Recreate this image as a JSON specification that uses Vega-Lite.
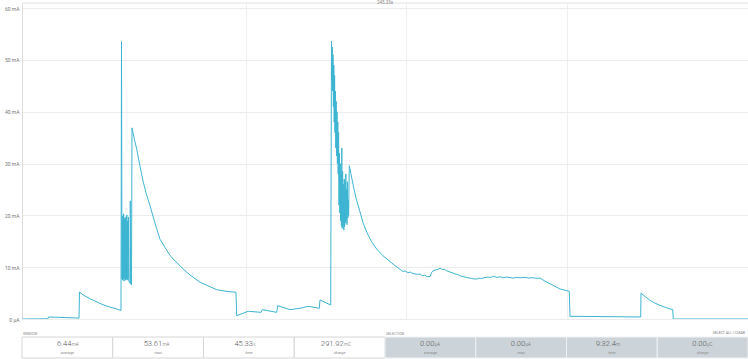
{
  "$schema": "https://vega.github.io/schema/vega-lite/v6.json",
  "padding": 0,
  "background": "white",
  "config": {"view": {"stroke": null}, "font": "Roboto"},
  "spacing": 6,
  "vconcat": [
    {
      "width": 726,
      "height": 316,
      "layer": [
        {
          "data": {"values": [
            {"t": 0, "mA": 0.0}, {"t": 1.623, "mA": 0.05}, {"t": 1.655, "mA": 0.39}, {"t": 3.497, "mA": 0.19},
            {"t": 3.559, "mA": 0.14}, {"t": 3.590, "mA": 5.21}, {"t": 3.746, "mA": 4.8}, {"t": 3.934, "mA": 4.44},
            {"t": 4.246, "mA": 3.9}, {"t": 4.558, "mA": 3.47}, {"t": 4.870, "mA": 3.0}, {"t": 5.182, "mA": 2.61},
            {"t": 5.495, "mA": 2.3}, {"t": 5.807, "mA": 2.03}, {"t": 6.181, "mA": 1.64}, {"t": 6.213, "mA": 53.57},
            {"t": 6.244, "mA": 7.72}, {"t": 6.263, "mA": 19.9}, {"t": 6.281, "mA": 7.5}, {"t": 6.306, "mA": 18.9},
            {"t": 6.325, "mA": 7.7}, {"t": 6.344, "mA": 20.3}, {"t": 6.369, "mA": 7.3}, {"t": 6.393, "mA": 19.3},
            {"t": 6.418, "mA": 7.9}, {"t": 6.443, "mA": 19.7}, {"t": 6.468, "mA": 7.5}, {"t": 6.493, "mA": 19.5},
            {"t": 6.518, "mA": 7.7}, {"t": 6.543, "mA": 20.1}, {"t": 6.568, "mA": 7.5}, {"t": 6.593, "mA": 18.9},
            {"t": 6.618, "mA": 7.7}, {"t": 6.643, "mA": 19.7}, {"t": 6.668, "mA": 7.3}, {"t": 6.712, "mA": 7.1},
            {"t": 6.743, "mA": 6.9}, {"t": 6.762, "mA": 22.8}, {"t": 6.781, "mA": 6.8}, {"t": 6.837, "mA": 6.6},
            {"t": 6.868, "mA": 36.9}, {"t": 7.024, "mA": 34.6}, {"t": 7.162, "mA": 32.8}, {"t": 7.368, "mA": 29.5},
            {"t": 7.574, "mA": 26.4}, {"t": 7.774, "mA": 24.0}, {"t": 7.992, "mA": 21.9}, {"t": 8.304, "mA": 18.5},
            {"t": 8.616, "mA": 15.4}, {"t": 8.929, "mA": 13.8}, {"t": 9.241, "mA": 12.3}, {"t": 9.553, "mA": 11.2},
            {"t": 9.865, "mA": 10.3}, {"t": 10.177, "mA": 9.3}, {"t": 10.490, "mA": 8.5}, {"t": 10.802, "mA": 7.8},
            {"t": 11.114, "mA": 7.1}, {"t": 11.613, "mA": 6.4}, {"t": 12.157, "mA": 5.66}, {"t": 12.737, "mA": 5.35},
            {"t": 13.362, "mA": 5.15},
            {"t": 13.405, "mA": 0.64}, {"t": 14.130, "mA": 1.49}, {"t": 14.923, "mA": 1.29}, {"t": 15.004, "mA": 1.8},
            {"t": 15.903, "mA": 1.29}, {"t": 15.965, "mA": 2.57}, {"t": 16.733, "mA": 1.8}, {"t": 17.358, "mA": 2.07},
            {"t": 17.876, "mA": 2.45}, {"t": 18.563, "mA": 2.07}, {"t": 18.607, "mA": 3.67}, {"t": 19.275, "mA": 2.7},
            {"t": 19.325, "mA": 53.61}, {"t": 19.343, "mA": 46}, {"t": 19.368, "mA": 52.5}, {"t": 19.393, "mA": 44},
            {"t": 19.418, "mA": 51}, {"t": 19.443, "mA": 41}, {"t": 19.468, "mA": 49}, {"t": 19.493, "mA": 38},
            {"t": 19.518, "mA": 47}, {"t": 19.543, "mA": 36}, {"t": 19.568, "mA": 44}, {"t": 19.593, "mA": 33},
            {"t": 19.618, "mA": 42}, {"t": 19.643, "mA": 31.5}, {"t": 19.668, "mA": 40}, {"t": 19.693, "mA": 30},
            {"t": 19.718, "mA": 38}, {"t": 19.743, "mA": 28}, {"t": 19.768, "mA": 36}, {"t": 19.793, "mA": 22},
            {"t": 19.818, "mA": 32}, {"t": 19.843, "mA": 20.5}, {"t": 19.868, "mA": 30}, {"t": 19.893, "mA": 19},
            {"t": 19.918, "mA": 28}, {"t": 19.943, "mA": 18}, {"t": 19.968, "mA": 33}, {"t": 19.993, "mA": 17.5},
            {"t": 20.018, "mA": 28.5}, {"t": 20.043, "mA": 18}, {"t": 20.068, "mA": 26}, {"t": 20.093, "mA": 17.2},
            {"t": 20.118, "mA": 27}, {"t": 20.143, "mA": 17.8}, {"t": 20.168, "mA": 26.5}, {"t": 20.193, "mA": 18.5},
            {"t": 20.218, "mA": 28}, {"t": 20.243, "mA": 19}, {"t": 20.268, "mA": 25}, {"t": 20.293, "mA": 18.2},
            {"t": 20.318, "mA": 26.5}, {"t": 20.343, "mA": 19.5}, {"t": 20.368, "mA": 23}, {"t": 20.393, "mA": 20},
            {"t": 20.436, "mA": 29.6}, {"t": 20.686, "mA": 25.7}, {"t": 20.885, "mA": 23.0}, {"t": 21.104, "mA": 20.7},
            {"t": 21.291, "mA": 18.6}, {"t": 21.522, "mA": 16.8}, {"t": 21.791, "mA": 15.1}, {"t": 22.147, "mA": 13.5},
            {"t": 22.540, "mA": 12.2}, {"t": 22.977, "mA": 11.1}, {"t": 23.289, "mA": 10.3}, {"t": 23.602, "mA": 9.6},
            {"t": 23.70, "mA": 9.35}, {"t": 23.80, "mA": 9.2},
            {"t": 23.95, "mA": 9.25}, {"t": 24.10, "mA": 8.95}, {"t": 24.25, "mA": 9.05}, {"t": 24.40, "mA": 8.8},
            {"t": 24.538, "mA": 8.7}, {"t": 24.70, "mA": 8.6}, {"t": 24.85, "mA": 8.7}, {"t": 25.00, "mA": 8.35},
            {"t": 25.15, "mA": 8.45}, {"t": 25.30, "mA": 8.2}, {"t": 25.475, "mA": 8.17}, {"t": 25.56, "mA": 8.9},
            {"t": 25.662, "mA": 9.3}, {"t": 25.85, "mA": 9.5}, {"t": 26.00, "mA": 9.65}, {"t": 26.099, "mA": 9.8},
            {"t": 26.25, "mA": 9.55}, {"t": 26.40, "mA": 9.6}, {"t": 26.517, "mA": 9.3}, {"t": 26.70, "mA": 9.1},
            {"t": 26.85, "mA": 8.95}, {"t": 27.036, "mA": 8.7}, {"t": 27.20, "mA": 8.6}, {"t": 27.40, "mA": 8.3},
            {"t": 27.660, "mA": 8.1}, {"t": 27.85, "mA": 7.95}, {"t": 28.05, "mA": 7.85}, {"t": 28.20, "mA": 7.75},
            {"t": 28.391, "mA": 7.7}, {"t": 28.55, "mA": 7.9}, {"t": 28.70, "mA": 7.8}, {"t": 28.909, "mA": 8.0},
            {"t": 29.10, "mA": 8.1}, {"t": 29.25, "mA": 8.0}, {"t": 29.427, "mA": 8.24}, {"t": 29.65, "mA": 8.05},
            {"t": 29.85, "mA": 8.15}, {"t": 30.05, "mA": 7.95}, {"t": 30.25, "mA": 8.1}, {"t": 30.470, "mA": 8.0},
            {"t": 30.70, "mA": 7.9}, {"t": 30.90, "mA": 8.05}, {"t": 31.10, "mA": 7.95}, {"t": 31.406, "mA": 8.05},
            {"t": 31.65, "mA": 7.9}, {"t": 31.85, "mA": 8.0}, {"t": 32.10, "mA": 7.85}, {"t": 32.343, "mA": 7.9},
            {"t": 32.655, "mA": 7.3}, {"t": 33.092, "mA": 6.6}, {"t": 33.592, "mA": 5.8}, {"t": 34.172, "mA": 5.35},
            {"t": 34.216, "mA": 0.52}, {"t": 38.630, "mA": 0.39}, {"t": 38.649, "mA": 5.02}, {"t": 38.836, "mA": 4.5},
            {"t": 39.024, "mA": 4.05}, {"t": 39.211, "mA": 3.6}, {"t": 39.417, "mA": 3.22}, {"t": 39.711, "mA": 2.8},
            {"t": 40.023, "mA": 2.41}, {"t": 40.335, "mA": 2.08}, {"t": 40.628, "mA": 1.8}, {"t": 40.666, "mA": 0.0},
            {"t": 45.33, "mA": 0.0}
          ]},
          "mark": {"type": "line", "color": "#3db5d2", "strokeWidth": 1, "clip": true},
          "encoding": {
            "x": {
              "field": "t", "type": "quantitative",
              "scale": {"domain": [0, 45.33], "nice": false, "zero": false},
              "axis": {"title": null, "labels": false, "ticks": false, "domain": false, "grid": true,
                       "values": [14, 24, 34], "gridColor": "#efefef", "minExtent": 0, "maxExtent": 0}
            },
            "y": {
              "field": "mA", "type": "quantitative",
              "scale": {"domain": [0, 61.0], "nice": false},
              "axis": {"title": null, "values": [0, 10, 20, 30, 40, 50, 60], "ticks": false,
                       "labelExpr": "datum.value == 0 ? '0 µA' : datum.value + ' mA'",
                       "labelFontSize": 5, "labelColor": "#777", "labelPadding": 3,
                       "domainColor": "#dddddd", "gridColor": "#ececec",
                       "minExtent": 22, "maxExtent": 22}
            }
          }
        },
        {
          "data": {"values": [{}]},
          "mark": {"type": "rule", "color": "#e2e2e2", "strokeWidth": 1},
          "encoding": {"y": {"datum": 61.0, "type": "quantitative"}}
        },
        {
          "data": {"values": [{}]},
          "mark": {"type": "text", "fontSize": 4.5, "color": "#888", "baseline": "middle", "align": "center"},
          "encoding": {
            "x": {"datum": 22.67, "type": "quantitative"},
            "y": {"datum": 61.0, "type": "quantitative"},
            "text": {"value": "245.33s"}
          }
        }
      ]
    },
    {
      "width": 726,
      "height": 32,
      "data": {"values": [
        {"cell": "w0", "group": "WINDOW", "value": "6.44", "unit": "mA", "label": "average"},
        {"cell": "w1", "group": "WINDOW", "value": "53.61", "unit": "mA", "label": "max"},
        {"cell": "w2", "group": "WINDOW", "value": "45.33", "unit": "s", "label": "time"},
        {"cell": "w3", "group": "WINDOW", "value": "291.92", "unit": "mC", "label": "charge"},
        {"cell": "s0", "group": "SELECTION", "value": "0.00", "unit": "µA", "label": "average"},
        {"cell": "s1", "group": "SELECTION", "value": "0.00", "unit": "µA", "label": "max"},
        {"cell": "s2", "group": "SELECTION", "value": "9:32.4", "unit": "m", "label": "time"},
        {"cell": "s3", "group": "SELECTION", "value": "0.00", "unit": "µC", "label": "charge"}
      ]},
      "encoding": {
        "x": {"field": "cell", "type": "nominal",
              "scale": {"domain": ["w0", "w1", "w2", "w3", "s0", "s1", "s2", "s3"], "paddingInner": 0, "paddingOuter": 0},
              "axis": null}
      },
      "layer": [
        {
          "mark": {"type": "rect", "strokeWidth": 1},
          "encoding": {
            "y": {"datum": 9, "type": "quantitative", "scale": {"domain": [0, 32], "reverse": true, "nice": false}, "axis": null},
            "y2": {"datum": 30},
            "fill": {"field": "group", "type": "nominal", "scale": {"domain": ["WINDOW", "SELECTION"], "range": ["#ffffff", "#cdd4d9"]}, "legend": null},
            "stroke": {"field": "group", "type": "nominal", "scale": {"domain": ["WINDOW", "SELECTION"], "range": ["#d6d6d6", "#eef1f3"]}, "legend": null}
          }
        },
        {
          "mark": {"type": "text", "align": "right", "dx": 4, "baseline": "alphabetic", "fontSize": 7.5, "fontWeight": 300, "color": "#555"},
          "encoding": {
            "y": {"datum": 18.3, "type": "quantitative"},
            "text": {"field": "value"}
          }
        },
        {
          "mark": {"type": "text", "align": "left", "dx": 4.3, "baseline": "alphabetic", "fontSize": 4.5, "fontWeight": 300, "color": "#666"},
          "encoding": {
            "y": {"datum": 18.3, "type": "quantitative"},
            "text": {"field": "unit"}
          }
        },
        {
          "mark": {"type": "text", "align": "center", "baseline": "middle", "fontSize": 3.8, "color": "#888"},
          "encoding": {
            "y": {"datum": 25, "type": "quantitative"},
            "text": {"field": "label"}
          }
        },
        {
          "transform": [{"filter": "datum.cell == 'w0' || datum.cell == 's0'"}],
          "mark": {"type": "text", "align": "left", "baseline": "middle", "fontSize": 3.5, "color": "#888", "dx": 1},
          "encoding": {
            "x": {"field": "cell", "type": "nominal", "bandPosition": 0},
            "y": {"datum": 6, "type": "quantitative"},
            "text": {"field": "group"}
          }
        },
        {
          "transform": [{"filter": "datum.cell == 's3'"}],
          "mark": {"type": "text", "align": "right", "baseline": "middle", "fontSize": 3.5, "color": "#777", "dx": -3},
          "encoding": {
            "x": {"field": "cell", "type": "nominal", "bandPosition": 1},
            "y": {"datum": 5, "type": "quantitative"},
            "text": {"value": "SELECT ALL  |  CLEAR"}
          }
        }
      ]
    }
  ]
}
